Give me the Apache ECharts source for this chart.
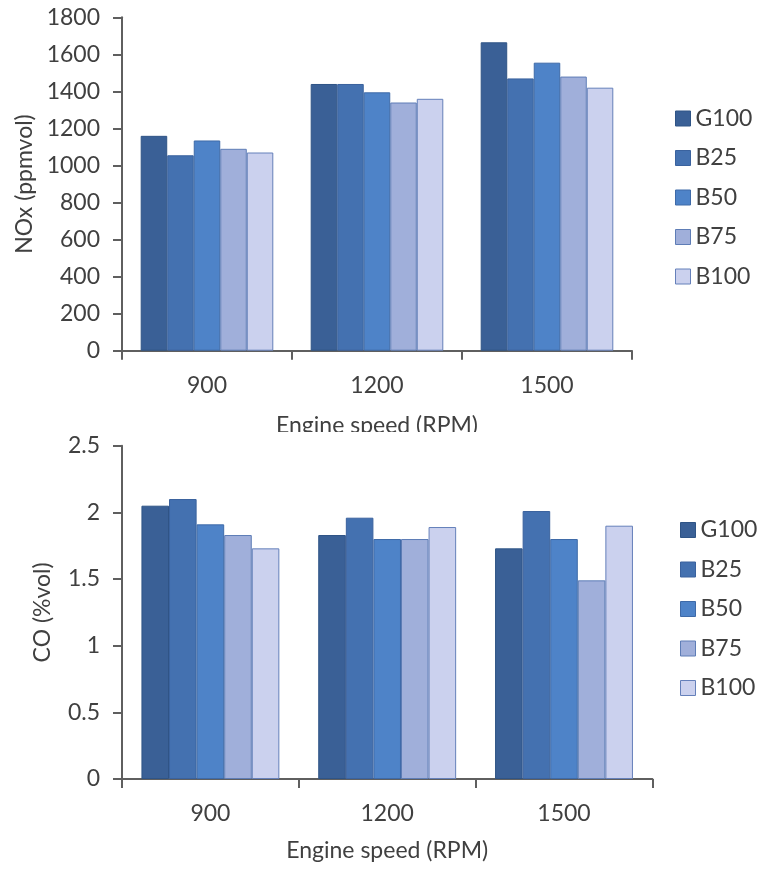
<!DOCTYPE html>
<html>
<head>
<meta charset="utf-8">
<script src="https://cdn.jsdelivr.net/npm/echarts@6/dist/echarts.min.js"></script>
<style>
  html, body { margin: 0; padding: 0; background: #fff; }
  #nox { width: 758px; height: 432px; overflow: hidden; }
  #co { width: 758px; height: 439px; }
</style>
</head>
<body>
<div id="nox"></div>
<div id="co"></div>
<script>
// Engine speeds on the category axis
const speeds = ['900', '1200', '1500'];
const fuels = ['G100', 'B25', 'B50', 'B75', 'B100'];

// NOx emissions (ppmvol) per fuel, in the order of speeds
const noxG100 = [1160, 1440, 1665];
const noxB25  = [1055, 1440, 1470];
const noxB50  = [1135, 1395, 1555];
const noxB75  = [1090, 1340, 1480];
const noxB100 = [1070, 1360, 1420];

// CO emissions (%vol) per fuel, in the order of speeds
const coG100 = [2.05, 1.83, 1.73];
const coB25  = [2.10, 1.96, 2.01];
const coB50  = [1.91, 1.80, 1.80];
const coB75  = [1.83, 1.80, 1.49];
const coB100 = [1.73, 1.89, 1.90];

const fills   = ['#3a6096', '#4471b0', '#4e83c8', '#a0afda', '#cbd1ee'];
const borders = ['#2f5486', '#3a629e', '#3e6aa8', '#5e7db6', '#6580ba'];

const FONT = 'Lato';
const SIZE = 23;
const TEXT = '#404040';
const AXIS = '#5f5f5f';

function buildOption(opts) {
  const series = opts.data.map((vals, i) => ({
    name: fuels[i],
    type: 'bar',
    data: vals,
    barGap: '0%',
    barCategoryGap: '22%',
    itemStyle: { color: fills[i], borderColor: borders[i], borderWidth: 1 }
  }));
  return {
    animation: false,
    textStyle: { fontFamily: FONT, color: TEXT },
    grid: Object.assign({ outerBoundsMode: 'none', containLabel: false }, opts.grid),
    legend: {
      orient: 'vertical',
      left: opts.legendLeft,
      top: opts.legendTop,
      itemWidth: 15,
      itemHeight: 15,
      itemGap: 16.5,
      icon: 'rect',
      textStyle: { fontFamily: FONT, fontSize: SIZE, color: TEXT },
      data: fuels.map((f, i) => ({
        name: f,
        itemStyle: { color: fills[i], borderColor: borders[i], borderWidth: 1 }
      }))
    },
    xAxis: {
      type: 'category',
      data: speeds,
      name: 'Engine speed (RPM)',
      nameLocation: 'middle',
      nameGap: opts.xNameGap,
      nameTextStyle: { fontFamily: FONT, fontSize: SIZE, color: TEXT },
      axisLine: { lineStyle: { color: AXIS, width: 2 } },
      axisTick: { show: true, length: 9, lineStyle: { color: AXIS, width: 2 } },
      axisLabel: { margin: opts.xLabelMargin, fontFamily: FONT, fontSize: SIZE, color: TEXT }
    },
    yAxis: {
      type: 'value',
      min: 0,
      max: opts.yMax,
      interval: opts.yStep,
      name: opts.yName,
      nameLocation: 'middle',
      nameGap: opts.yNameGap,
      nameTextStyle: { fontFamily: FONT, fontSize: SIZE, color: TEXT },
      axisLine: { show: true, lineStyle: { color: AXIS, width: 2 } },
      axisTick: { show: true, length: 9, lineStyle: { color: AXIS, width: 2 } },
      axisLabel: {
        margin: 22, fontFamily: FONT, fontSize: SIZE, color: TEXT,
        formatter: v => String(v)
      },
      splitLine: { show: false }
    },
    series: series
  };
}

const noxChart = echarts.init(document.getElementById('nox'));
noxChart.setOption(buildOption({
  data: [noxG100, noxB25, noxB50, noxB75, noxB100],
  grid: { left: 122, top: 17.3, right: 126, bottom: 81.3 },
  legendLeft: 670,
  legendTop: 102,
  xNameGap: 63,
  xLabelMargin: 23,
  yMax: 1800,
  yStep: 200,
  yName: 'NOx (ppmvol)',
  yNameGap: 86
}));

const coChart = echarts.init(document.getElementById('co'));
coChart.setOption(buildOption({
  data: [coG100, coB25, coB50, coB75, coB100],
  grid: { left: 122, top: 13.7, right: 105.6, bottom: 92 },
  legendLeft: 675,
  legendTop: 81.5,
  xNameGap: 60,
  xLabelMargin: 23,
  yMax: 2.5,
  yStep: 0.5,
  yName: 'CO (%vol)',
  yNameGap: 68
}));
</script>
</body>
</html>
